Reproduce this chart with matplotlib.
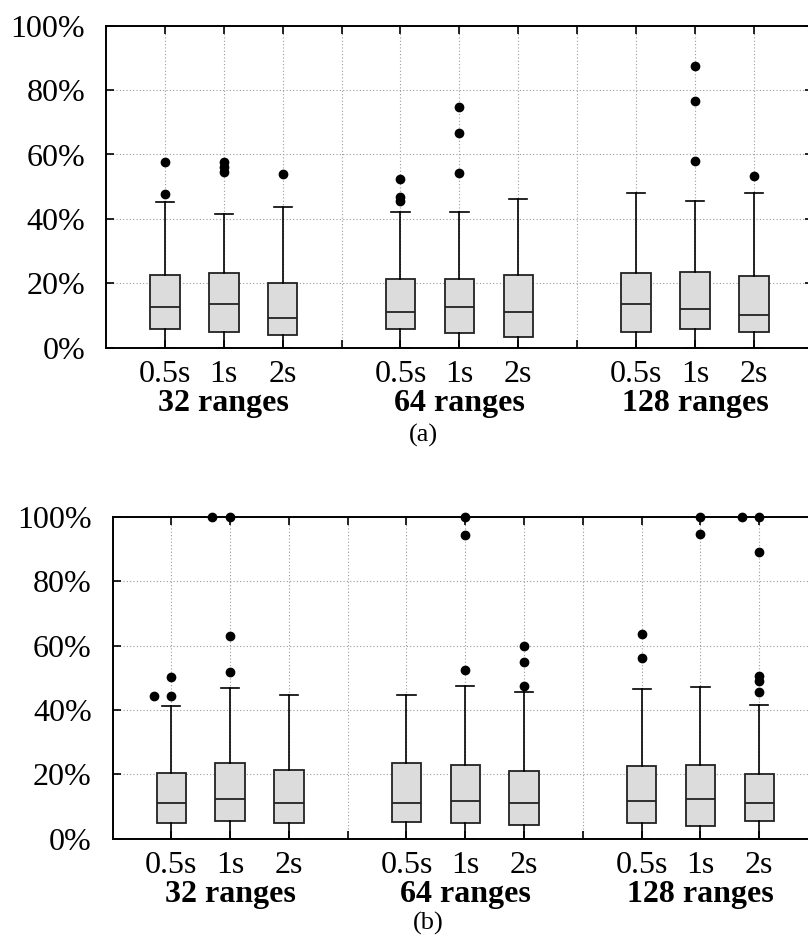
import matplotlib
matplotlib.use("Agg")
import matplotlib.pyplot as plt
import matplotlib.transforms as mtransforms

plt.rcParams['font.family'] = ['Liberation Serif', 'DejaVu Serif']

# box positions and labels
positions = [1, 2, 3, 5, 6, 7, 9, 10, 11]
tick_labels = ['0.5s', '1s', '2s'] * 3
group_pos = [2, 6, 10]
group_labels = ['32 ranges', '64 ranges', '128 ranges']

# panel (a) box statistics (%)
a_q1 = [5.9, 4.9, 3.8, 5.7, 4.5, 3.2, 4.8, 5.9, 4.8]
a_med = [12.7, 13.5, 9.2, 11.2, 12.6, 11.2, 13.6, 12.0, 10.2]
a_q3 = [22.6, 23.1, 20.0, 21.2, 21.2, 22.6, 23.1, 23.6, 22.3]
a_lo = [0, 0, 0, 0, 0, 0, 0, 0, 0]
a_hi = [45.4, 41.5, 43.8, 42.2, 42.0, 46.2, 48.1, 45.5, 48.1]
a_out = [[57.6, 47.8], [57.8, 56.2, 54.6], [53.8], [52.4, 46.9, 45.5],
         [74.9, 66.7, 54.2], [], [], [87.5, 76.5, 57.9], [53.4]]

# panel (b) box statistics (%)
b_q1 = [4.8, 5.4, 4.8, 5.1, 4.8, 4.4, 4.8, 3.9, 5.4]
b_med = [11.2, 12.2, 11.2, 11.2, 11.8, 11.2, 11.8, 12.2, 11.2]
b_q3 = [20.5, 23.5, 21.3, 23.5, 23.0, 21.1, 22.7, 23.0, 20.0]
b_lo = [0, 0, 0, 0, 0, 0, 0, 0, 0]
b_hi = [41.2, 46.7, 44.5, 44.5, 47.5, 45.5, 46.6, 47.0, 41.5]
b_out = [[50.1, 44.4, 44.4], [100, 100, 63.0, 51.7], [], [],
         [100, 94.3, 52.4], [60.0, 54.8, 47.3], [63.6, 56.1],
         [100, 94.7], [100, 100, 88.9, 50.4, 49.1, 45.5]]

W, H = 808, 938
fig = plt.figure(figsize=(W / 100, H / 100), dpi=100)


def panel(left_px, bottom_px, unit_px, q1, med, q3, lo, hi, outs, caption, cap_xy):
    ax = fig.add_axes([left_px / W, 1 - bottom_px / H, 12 * unit_px / W, 322 / H])
    stats = []
    for i in range(len(positions)):
        stats.append(dict(q1=q1[i], med=med[i], q3=q3[i], whislo=lo[i],
                          whishi=hi[i], fliers=[]))
    ax.bxp(stats, positions=positions, widths=0.5, capwidths=0.31,
           showfliers=False, patch_artist=True,
           boxprops=dict(facecolor='#dcdcdc', edgecolor='#222222', linewidth=1.3),
           medianprops=dict(color='#222222', linewidth=1.3),
           whiskerprops=dict(color='black', linewidth=1.2),
           capprops=dict(color='black', linewidth=1.2),
           zorder=3)
    # outliers, repeated values spread sideways
    for p, vals in zip(positions, outs):
        seen = {}
        for v in vals:
            k = seen.get(v, 0)
            seen[v] = k + 1
            ax.plot(p - 0.3 * k, v, 'o', color='black', markersize=6,
                    clip_on=False, zorder=5)
    ax.set_xlim(0, 12)
    ax.set_ylim(0, 100)
    ax.set_xticks(range(1, 12))
    ax.set_xticklabels(['' if x not in positions else tick_labels[positions.index(x)]
                        for x in range(1, 12)])
    ax.set_yticks([0, 20, 40, 60, 80, 100])
    ax.set_yticklabels(['0%', '20%', '40%', '60%', '80%', '100%'])
    ax.tick_params(direction='in', length=6, width=1.2, top=True, right=True,
                   labelsize=23)
    ax.tick_params(axis='x', pad=9)
    ax.tick_params(axis='y', pad=15)
    ax.grid(True, color='#9a9a9a', linestyle=(0, (1, 2)), linewidth=0.8)
    ax.set_axisbelow(True)
    for s in ax.spines.values():
        s.set_linewidth(1.4)
    tr = mtransforms.offset_copy(ax.get_xaxis_transform(), fig=fig, y=-63, units='dots')
    for gx, gl in zip(group_pos, group_labels):
        ax.text(gx, 0, gl, transform=tr, ha='center', va='baseline',
                fontsize=23, fontweight='bold')
    fig.text(cap_xy[0] / W, 1 - cap_xy[1] / H, caption, ha='center', va='center',
             fontsize=19)
    return ax


panel(106, 347.7, 58.9, a_q1, a_med, a_q3, a_lo, a_hi, a_out, '(a)', (423, 435))
panel(112.5, 838.7, 58.8, b_q1, b_med, b_q3, b_lo, b_hi, b_out, '(b)', (428, 923))

fig.savefig('out.png', dpi=100)
